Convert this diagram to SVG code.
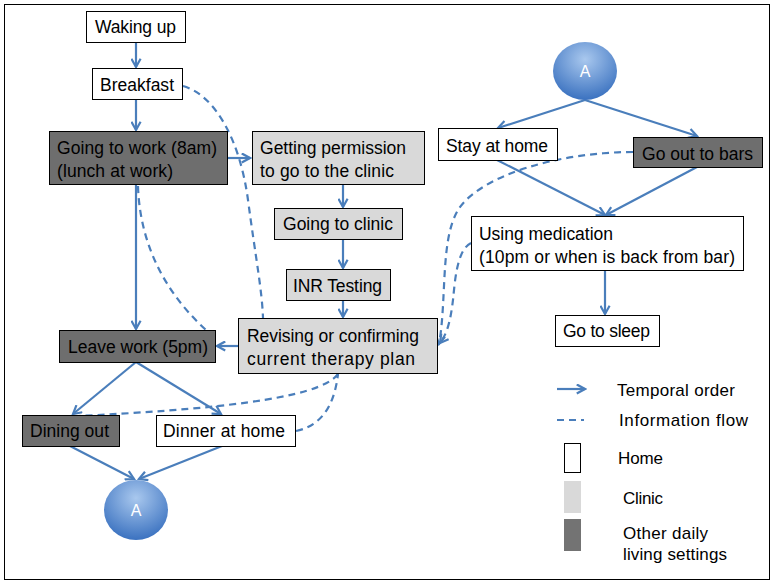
<svg xmlns="http://www.w3.org/2000/svg" width="774" height="583" viewBox="0 0 774 583">
<style>
.home{fill:#ffffff;stroke:#000;stroke-width:1}
.clinic{fill:#d9d9d9;stroke:#000;stroke-width:1}
.other{fill:#6e6e6e;stroke:#000;stroke-width:1}
text{font-family:"Liberation Sans",Arial,sans-serif;font-size:17.5px;fill:#000}
.lbl{font-size:17px}
.circ{font-size:16px;fill:#fff;text-anchor:middle}
.solid{fill:none;stroke:#4a7ebb;stroke-width:2.2;marker-end:url(#ah)}
.dash{fill:none;stroke:#4a7ebb;stroke-width:2.2;stroke-dasharray:7,5}
.darr{marker-end:url(#ah)}
</style>
<defs>
<marker id="ah" viewBox="0 0 12 12" refX="10" refY="6" markerWidth="5" markerHeight="5" orient="auto" markerUnits="strokeWidth">
<path d="M1,1 L10,6 L1,11" fill="none" stroke="#4a7ebb" stroke-width="2.4"/>
</marker>
<radialGradient id="cg" cx="50%" cy="30%" r="70%">
<stop offset="0" stop-color="#a9c8ee"/>
<stop offset="1" stop-color="#3b72c0"/>
</radialGradient>
</defs>
<rect x="4.5" y="4.5" width="765" height="575" fill="#fff" stroke="#000" stroke-width="1"/>

<g id="connectors">
<line class="solid" x1="136" y1="42" x2="136" y2="67"/>
<line class="solid" x1="136" y1="99" x2="136" y2="130"/>
<line class="solid" x1="136" y1="184" x2="136" y2="329"/>
<line class="solid" x1="227" y1="158" x2="250" y2="158"/>
<line class="solid" x1="343" y1="184" x2="343" y2="207"/>
<line class="solid" x1="343" y1="239" x2="343" y2="268"/>
<line class="solid" x1="343" y1="300" x2="343" y2="317"/>
<line class="solid" x1="238" y1="346" x2="217" y2="346"/>
<line class="solid" x1="136" y1="362" x2="73" y2="414"/>
<line class="solid" x1="136" y1="362" x2="221" y2="414"/>
<line class="solid" x1="70" y1="446" x2="134" y2="479"/>
<line class="solid" x1="222" y1="446" x2="139" y2="479"/>
<line class="solid" x1="585" y1="100" x2="498" y2="128"/>
<line class="solid" x1="585" y1="100" x2="697" y2="136"/>
<line class="solid" x1="497" y1="160" x2="605" y2="215"/>
<line class="solid" x1="697" y1="167" x2="606" y2="215"/>
<line class="solid" x1="605" y1="270" x2="605" y2="314"/>
<path class="dash" d="M183,86 C215,95 240,140 248,200 S262,290 263,318"/>
<path class="dash" d="M138,186 C140,250 170,300 214,337"/>
<path class="dash" d="M338,374 C320,400 200,410 78,416"/>
<path class="dash" d="M296,431 C325,425 335,400 338,374"/>
<path class="dash darr" d="M633,152 C560,152 480,175 458,210 C440,240 447,300 439,344"/>
<path class="dash darr" d="M471,243 C457,250 455,280 453,300 C450,325 446,335 440,343"/>
</g>

<g id="waking-up"><rect class="home" x="86.5" y="11.5" width="99" height="31"/><text x="95" y="33" textLength="81">Waking up</text></g>
<g id="breakfast"><rect class="home" x="92.5" y="68.5" width="90" height="31"/><text x="100" y="91" textLength="74">Breakfast</text></g>
<g id="going-to-work"><rect class="other" x="49.5" y="131.5" width="178" height="53"/><text x="57" y="154" textLength="160">Going to work (8am)</text><text x="57" y="177" textLength="116">(lunch at work)</text></g>
<g id="getting-permission"><rect class="clinic" x="252.5" y="131.5" width="172" height="53"/><text x="260" y="154" textLength="146">Getting permission</text><text x="260" y="177" textLength="134">to go to the clinic</text></g>
<g id="going-to-clinic"><rect class="clinic" x="274.5" y="208.5" width="128" height="31"/><text x="283" y="230" textLength="110">Going to clinic</text></g>
<g id="inr-testing"><rect class="clinic" x="286.5" y="269.5" width="104" height="31"/><text x="293" y="292" textLength="89">INR Testing</text></g>
<g id="revising"><rect class="clinic" x="238.5" y="318.5" width="199" height="55"/><text x="247" y="342" textLength="172">Revising or confirming</text><text x="247" y="365" textLength="168">current therapy plan</text></g>
<g id="leave-work"><rect class="other" x="59.5" y="330.5" width="156" height="32"/><text x="68" y="353" textLength="140">Leave work (5pm)</text></g>
<g id="dining-out"><rect class="other" x="22.5" y="415.5" width="97" height="31"/><text x="30" y="437" textLength="79">Dining out</text></g>
<g id="dinner-at-home"><rect class="home" x="156.5" y="415.5" width="139" height="31"/><text x="163" y="437" textLength="122">Dinner at home</text></g>
<g id="circle-a-bottom"><ellipse cx="136" cy="510" rx="32" ry="30" fill="url(#cg)"/><text class="circ" x="136" y="516">A</text></g>
<g id="circle-a-top"><ellipse cx="585" cy="71" rx="32" ry="29" fill="url(#cg)"/><text class="circ" x="585" y="77">A</text></g>
<g id="stay-at-home"><rect class="home" x="438.5" y="128.5" width="119" height="32"/><text x="446" y="152" textLength="102">Stay at home</text></g>
<g id="go-out-to-bars"><rect class="other" x="633.5" y="137.5" width="129" height="30"/><text x="642" y="160" textLength="111">Go out to bars</text></g>
<g id="using-medication"><rect class="home" x="471.5" y="216.5" width="272" height="54"/><text x="479" y="240" textLength="134">Using medication</text><text x="479" y="263" textLength="256">(10pm or when is back from bar)</text></g>
<g id="go-to-sleep"><rect class="home" x="555.5" y="315.5" width="104" height="31"/><text x="563" y="337" textLength="87">Go to sleep</text></g>

<g id="legend">
<line class="solid" x1="557" y1="389" x2="585" y2="389"/>
<text class="lbl" x="617" y="396" textLength="118">Temporal order</text>
<line class="dash" x1="557" y1="420" x2="584" y2="420" stroke-dasharray="8,5"/>
<text class="lbl" x="619" y="426" textLength="129">Information flow</text>
<rect class="home" x="564.5" y="443.5" width="16" height="29"/>
<text class="lbl" x="618" y="464" textLength="45">Home</text>
<rect x="564" y="481" width="17" height="32" fill="#d9d9d9"/>
<text class="lbl" x="623" y="504" textLength="40">Clinic</text>
<rect x="564" y="519" width="17" height="32" fill="#737373"/>
<text class="lbl" x="623" y="539" textLength="85">Other daily</text>
<text class="lbl" x="623" y="560" textLength="104">living settings</text>
</g>
</svg>
